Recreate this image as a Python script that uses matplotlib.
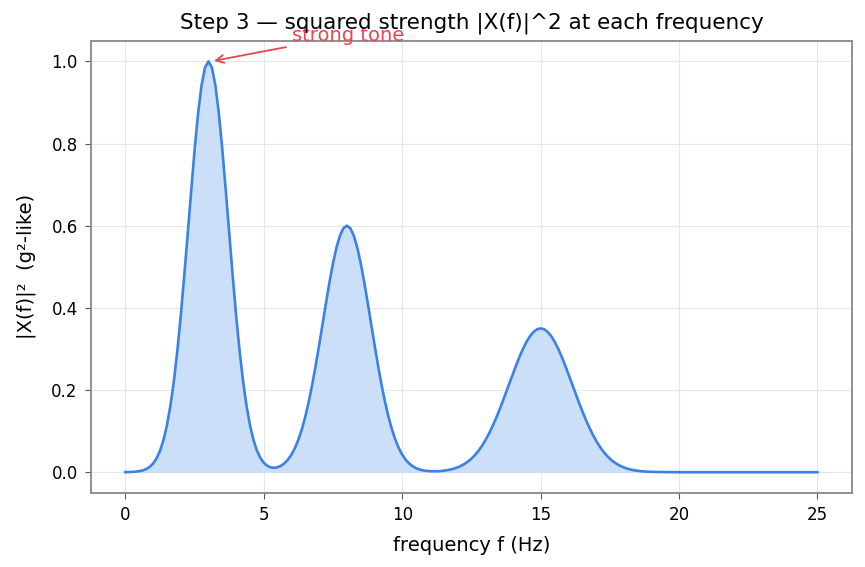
import numpy as np
import matplotlib.pyplot as plt

# frequency grid (Hz), 0.125 Hz steps, and squared magnitude
freqs = np.arange(0, 25.001, 0.125)
power = [
    0.0002, 0.0003, 0.0007, 0.0013, 0.0024, 0.0043, 0.0076, 0.0128,   # 0 Hz
    0.0211, 0.0337, 0.0521, 0.0783, 0.1142, 0.1615, 0.2215, 0.2950,   # 1
    0.3812, 0.4779, 0.5813, 0.6861, 0.7858, 0.8732, 0.9415, 0.9850,   # 2
    1.0000, 0.9850, 0.9415, 0.8732, 0.7858, 0.6861, 0.5813, 0.4779,   # 3
    0.3812, 0.2950, 0.2216, 0.1616, 0.1144, 0.0786, 0.0527, 0.0347,   # 4
    0.0227, 0.0154, 0.0116, 0.0107, 0.0121, 0.0158, 0.0219, 0.0307,   # 5
    0.0429, 0.0589, 0.0794, 0.1048, 0.1357, 0.1721, 0.2137, 0.2601,   # 6
    0.3099, 0.3618, 0.4137, 0.4635, 0.5087, 0.5468, 0.5757, 0.5938,   # 7
    0.6000, 0.5938, 0.5757, 0.5468, 0.5087, 0.4635, 0.4137, 0.3618,   # 8
    0.3099, 0.2601, 0.2137, 0.1721, 0.1357, 0.1048, 0.0794, 0.0588,   # 9
    0.0427, 0.0304, 0.0213, 0.0146, 0.0098, 0.0066, 0.0044, 0.0032,   # 10
    0.0024, 0.0022, 0.0023, 0.0027, 0.0036, 0.0048, 0.0065, 0.0087,   # 11
    0.0117, 0.0154, 0.0201, 0.0259, 0.0329, 0.0415, 0.0516, 0.0635,   # 12
    0.0771, 0.0926, 0.1100, 0.1290, 0.1495, 0.1713, 0.1939, 0.2169,   # 13
    0.2398, 0.2620, 0.2829, 0.3019, 0.3184, 0.3319, 0.3418, 0.3479,   # 14
    0.3500, 0.3479, 0.3418, 0.3319, 0.3184, 0.3019, 0.2829, 0.2620,   # 15
    0.2398, 0.2169, 0.1939, 0.1713, 0.1495, 0.1290, 0.1100, 0.0926,   # 16
    0.0771, 0.0635, 0.0516, 0.0415, 0.0329, 0.0259, 0.0201, 0.0154,   # 17
    0.0117, 0.0087, 0.0065, 0.0047, 0.0034, 0.0024, 0.0017, 0.0012,   # 18
    0.0008, 0.0006, 0.0004, 0.0003, 0.0002, 0.0001, 0.0001, 0.0000,   # 19
] + [0.0] * 41                                                        # 20..25 Hz flat
peak_freq = 3.0
peak_label = 'strong tone'

line_col = '#3b82e6'
red = '#e5484d'

fig = plt.figure(figsize=(8.65, 5.67), dpi=100)
ax = fig.add_axes([0.105, 0.131, 0.88, 0.797])

ax.fill_between(freqs, power, color='#c7dcf8', alpha=0.9, linewidth=0)
ax.plot(freqs, power, color=line_col, linewidth=1.9)

ax.annotate(peak_label, xy=(peak_freq + 0.1, max(power)), xytext=(6, 1.05),
            color=red, fontsize=14,
            arrowprops=dict(arrowstyle='->', color=red, lw=1.3))

ax.set_title('Step 3 — squared strength |X(f)|^2 at each frequency', fontsize=15.5, pad=9)
ax.set_xlabel('frequency f (Hz)', fontsize=14, labelpad=8.5)
ax.set_ylabel('|X(f)|²  (g²-like)', fontsize=14, labelpad=11)

ax.grid(True, color='#e3e6ea', linewidth=0.8)
ax.set_axisbelow(True)
for s in ax.spines.values():
    s.set_color('#888888')
    s.set_linewidth(1.3)
ax.tick_params(labelsize=12, color='#555555', length=4.5, pad=5)

fig.savefig('out.png', dpi=100)
